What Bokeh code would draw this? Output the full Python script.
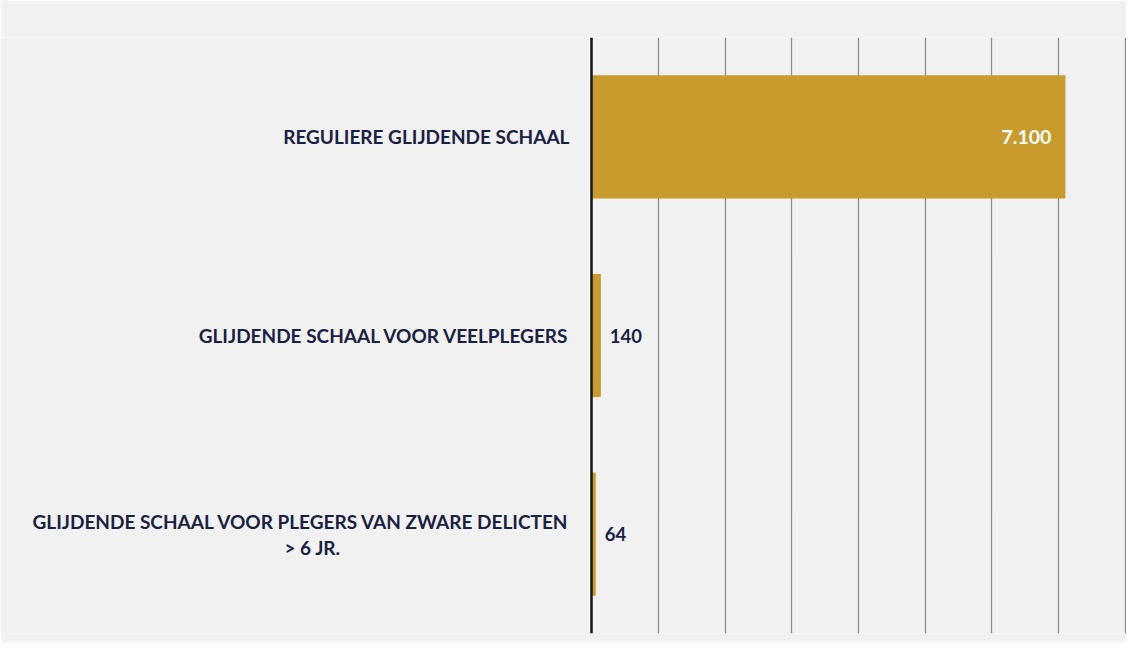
from bokeh.plotting import figure
from bokeh.models import Range1d, FactorRange, FixedTicker, Span, ColumnDataSource
from bokeh.core.properties import value
from bokeh.embed import file_html
from bokeh.resources import INLINE

# ---- data ----
categories = [
    "REGULIERE GLIJDENDE SCHAAL",
    "GLIJDENDE SCHAAL VOOR VEELPLEGERS",
    "GLIJDENDE SCHAAL VOOR PLEGERS VAN ZWARE DELICTEN > 6 JR.",
]
label_line1 = [
    "REGULIERE GLIJDENDE SCHAAL",
    "GLIJDENDE SCHAAL VOOR VEELPLEGERS",
    "GLIJDENDE SCHAAL VOOR PLEGERS VAN ZWARE DELICTEN",
]
label_line2 = ["", "", "> 6 JR."]
values = [7100, 140, 64]
value_labels = ["7.100", "140", "64"]
grid_ticks = [1000, 2000, 3000, 4000, 5000, 6000, 7000, 8000]

GOLD = "#c99b2d"
NAVY = "#1a2142"
FONT = "Lato"

W, H = 1126, 642
p = figure(
    width=W, height=H,
    x_range=Range1d(-8854, 8015),
    y_range=FactorRange(factors=categories[::-1], range_padding=0),
    output_backend="svg", toolbar_location=None,
    min_border_left=0, min_border_right=0, min_border_top=37, min_border_bottom=9,
)
p.background_fill_color = "#f1f1f1"
p.border_fill_color = "#f1f1f1"
p.outline_line_color = None
p.xaxis.visible = False
p.yaxis.visible = False
p.ygrid.grid_line_color = None
p.xgrid.ticker = FixedTicker(ticks=grid_ticks)
p.xgrid.grid_line_color = "#8f8f8f"
p.xgrid.grid_line_width = 1.3

src = ColumnDataSource(dict(cat=categories, val=values, lab=value_labels))
p.hbar(y="cat", left=0, right="val", height=0.62, color=GOLD, line_color=None, source=src)

p.add_layout(Span(location=0, dimension="height", line_color="#151515", line_width=2.5))

# value labels
big = ColumnDataSource(dict(cat=categories[:1], val=values[:1], lab=value_labels[:1]))
small = ColumnDataSource(dict(cat=categories[1:], val=values[1:], lab=value_labels[1:]))
p.text(x="val", y="cat", text="lab", source=big, text_align="right", text_baseline="middle",
       x_offset=-14, text_color="white", text_font=value(FONT), text_font_style="bold",
       text_font_size="19.5px")
p.text(x="val", y="cat", text="lab", source=small, text_align="left", text_baseline="middle",
       x_offset=9, text_color=NAVY, text_font=value(FONT), text_font_style="bold",
       text_font_size="18.5px")

# category labels
one = ColumnDataSource(dict(cat=categories[:2], l1=label_line1[:2]))
p.text(x=-330, y="cat", text="l1", source=one, text_align="right", text_baseline="middle",
       text_color=NAVY, text_font=value(FONT), text_font_style="bold", text_font_size="19px")
two = ColumnDataSource(dict(cat=categories[2:], l1=label_line1[2:], l2=label_line2[2:]))
p.text(x=-330, y="cat", text="l1", source=two, text_align="right", text_baseline="middle",
       y_offset=-13, text_color=NAVY, text_font=value(FONT), text_font_style="bold",
       text_font_size="19px")
p.text(x=-4180, y="cat", text="l2", source=two, text_align="center", text_baseline="middle",
       y_offset=13, text_color=NAVY, text_font=value(FONT), text_font_style="bold",
       text_font_size="19px")

open("out.html", "w").write(file_html(p, INLINE))
